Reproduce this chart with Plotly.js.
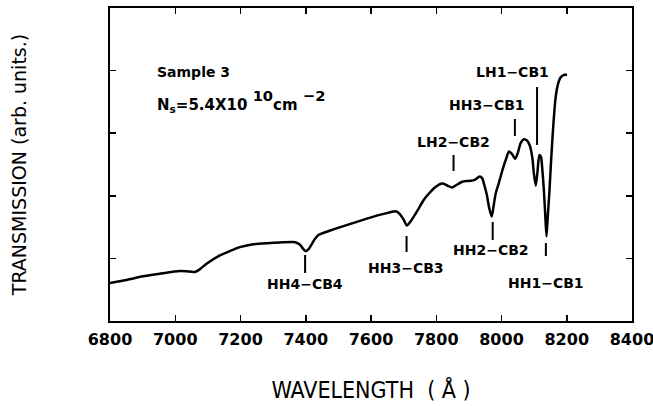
<!DOCTYPE html>
<html>
<head>
<meta charset="utf-8">
<script src="https://cdn.plot.ly/plotly-3.0.1.min.js"></script>
<style>html,body{margin:0;padding:0;background:#fff}#chart{width:653px;height:406px}</style>
</head>
<body>
<div id="chart"></div>
<script>
// Wavelength (Å) and transmission (arb. units)
const wavelength = [6800,6845,6901,6952,7014,7045,7060,7075,7096,7137,7168,7198,7235,7281,7321,7368,7383,7392,7400,7408,7417,7429,7439,7475,7537,7598,7639,7675,7687,7700,7710,7721,7731,7746,7762,7777,7793,7807,7819,7832,7849,7863,7880,7893,7906,7918,7933,7941,7947,7955,7962,7970,7976,7982,7992,8004,8013,8023,8032,8042,8050,8059,8069,8078,8087,8095,8099,8105,8110,8116,8121,8125,8130,8135,8138,8142,8147,8152,8157,8162,8167,8173,8180,8187,8193,8201];
const transmission = [0.607,0.650,0.714,0.754,0.798,0.789,0.782,0.825,0.916,1.048,1.119,1.180,1.223,1.243,1.254,1.259,1.215,1.151,1.116,1.143,1.215,1.318,1.374,1.445,1.552,1.652,1.711,1.752,1.715,1.620,1.525,1.588,1.668,1.795,1.938,2.033,2.121,2.176,2.197,2.169,2.134,2.176,2.224,2.235,2.240,2.256,2.308,2.280,2.176,2.017,1.811,1.668,1.843,2.033,2.208,2.431,2.574,2.709,2.669,2.590,2.685,2.844,2.903,2.884,2.797,2.590,2.367,2.161,2.367,2.653,2.622,2.431,2.081,1.604,1.350,1.684,2.081,2.558,2.987,3.353,3.615,3.782,3.882,3.917,3.933,3.933];

// Transition labels and their wavelengths (Å)
const transitions = ["HH4−CB4","HH3−CB3","HH2−CB2","HH1−CB1","LH2−CB2","HH3−CB1","LH1−CB1"];
const transitionWl = [7398,7709,7973,8136,7853,8041,8109];

const xTickVals = [6800,7000,7200,7400,7600,7800,8000,8200,8400];
const xTickText = ["6800","7000","7200","7400","7600","7800","8000","8200","8400"];

// placement of each marker bar and its label (layout only)
const placement = [
  {y0:0.767, y1:1.054, ly:0.599, lx:7398},
  {y0:1.102, y1:1.358, ly:0.847, lx:7706},
  {y0:1.294, y1:1.581, ly:1.142, lx:7969},
  {y0:1.038, y1:1.246, ly:0.615, lx:8135},
  {y0:2.396, y1:2.652, ly:2.859, lx:7852},
  {y0:2.955, y1:3.227, ly:3.458, lx:7955},
  {y0:2.812, y1:3.738, ly:3.978, lx:8035}
];

const labFont = {family:"DejaVu Sans", size:14, color:"#000", weight:"bold"};
const shapes = transitions.map((t,i)=>({
  type:"line", xref:"x", yref:"y",
  x0:transitionWl[i], x1:transitionWl[i], y0:placement[i].y0, y1:placement[i].y1,
  line:{color:"#000", width:2}
}));
const annotations = transitions.map((t,i)=>({
  text:t, xref:"x", yref:"y", x:placement[i].lx, y:placement[i].ly,
  showarrow:false, xanchor:"center", yanchor:"middle", font:labFont
}));
annotations.push({text:"Sample 3", xref:"paper", yref:"paper", x:0.086, y:0.796,
  xanchor:"left", yanchor:"middle", showarrow:false, font:labFont});
const base = s => "<span style=\"font-size:15px\">" + s + "</span>";
annotations.push({text: base("N<sub>s</sub>=5.4X10 ") + "<sup>10</sup>" + base("cm ") + "<sup>−2</sup>",
  xref:"paper", yref:"paper", x:0.086, y:0.704,
  xanchor:"left", yanchor:"middle", showarrow:false,
  font:{family:"DejaVu Sans", size:21, color:"#000", weight:"bold"}});

const trace = {
  x: wavelength, y: transmission, type:"scatter", mode:"lines",
  line:{color:"#000", width:2.5, shape:"spline", smoothing:0.6},
  hoverinfo:"skip"
};

const layout = {
  width:653, height:406,
  margin:{l:110, r:21, t:8, b:85},
  paper_bgcolor:"#fff", plot_bgcolor:"#fff",
  showlegend:false,
  xaxis:{
    range:[6800,8400], tickvals:xTickVals, ticktext:xTickText,
    ticks:"inside", ticklen:6, tickwidth:1.5, tickcolor:"#000",
    showline:true, linecolor:"#000", linewidth:2, mirror:"ticks",
    showgrid:false, zeroline:false, ticklabeloverflow:"allow", ticklabelstandoff:3,
    tickfont:{family:"DejaVu Sans", size:16, color:"#000", weight:"bold"},
    title:{text:"WAVELENGTH  ( Å )", standoff:34, font:{family:"DejaVu Sans Condensed", size:23, color:"#000"}}
  },
  yaxis:{
    range:[0,5], tickvals:[1,2,3,4], showticklabels:false,
    ticks:"inside", ticklen:6, tickwidth:1.5, tickcolor:"#000",
    showline:true, linecolor:"#000", linewidth:2, mirror:"ticks",
    showgrid:false, zeroline:false,
    title:{text:"TRANSMISSION (arb. units.)", standoff:76, font:{family:"DejaVu Sans", size:19, color:"#000"}}
  },
  shapes:shapes,
  annotations:annotations
};

Plotly.newPlot("chart", [trace], layout, {displayModeBar:false, staticPlot:true});
</script>
</body>
</html>
